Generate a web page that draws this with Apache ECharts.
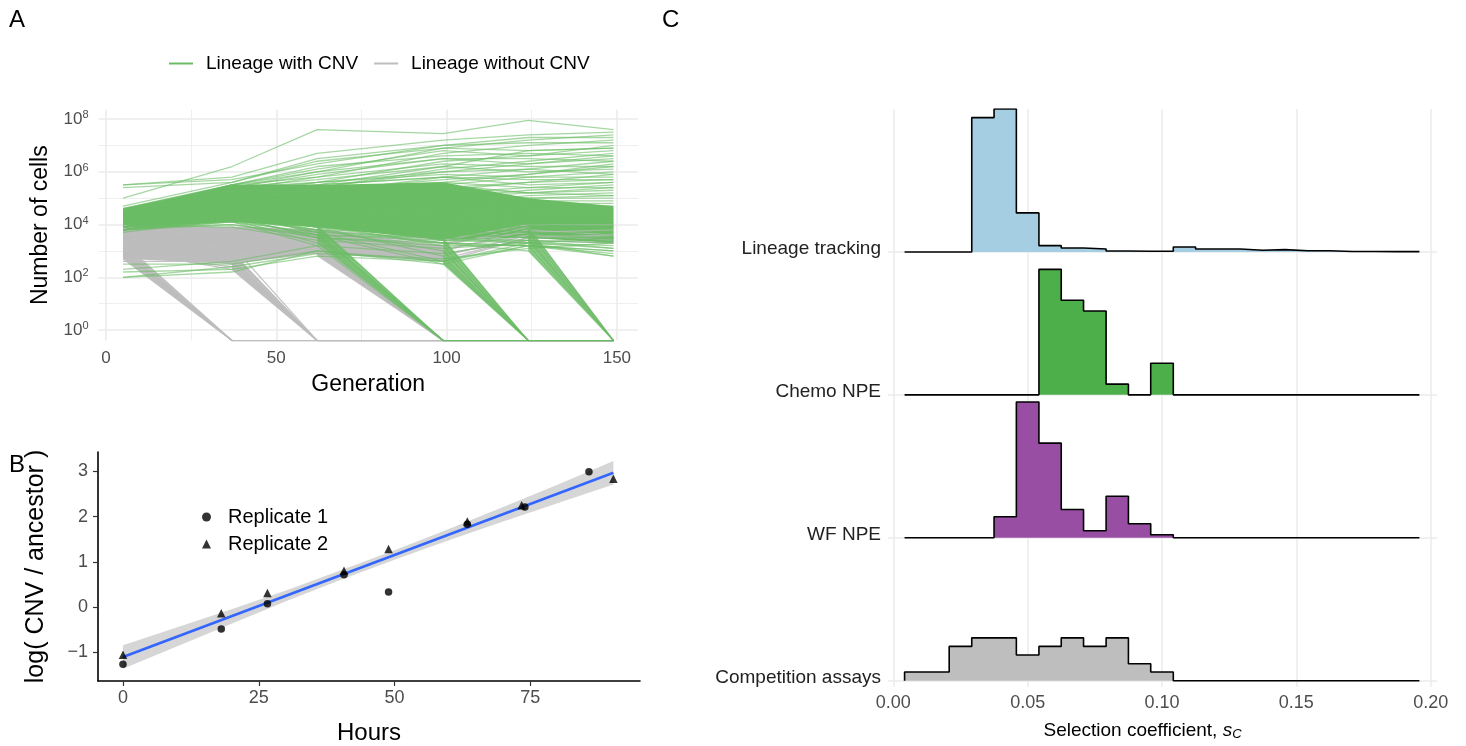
<!DOCTYPE html>
<html>
<head>
<meta charset="utf-8">
<script src="https://cdn.jsdelivr.net/npm/echarts@6/dist/echarts.min.js"></script>
<style>
  html, body { margin: 0; padding: 0; background: #fff; }
  #chart { width: 1466px; height: 746px; }
</style>
</head>
<body>
<div id="chart"></div>
<script>
// ---------- Panel A: lineage sizes, log10(number of cells) ----------
const generations = [5, 37, 62, 99, 124, 149];
const Z = -Infinity; // lineage lost (0 cells) -> drawn on the panel floor, like ggplot's -Inf

const cnvLineages = [
  [5.0, 6.2, 7.6, 7.45, 7.95, 7.6],
  [5.5, 5.8, 6.7, 7.2, 7.4, 7.5],
  [5.4, 5.6, 6.5, 7.0, 7.3, 7.3],
  [5.5, 5.7, 6.3, 7.0, 7.1, 7.1],
  [4.7, 5.6, 6.4, 6.9, 6.8, 6.9],
  [4.6, 5.5, 6.1, 6.8, 6.6, 6.8],
  [4.5, 5.5, 6.2, 6.6, 6.7, 6.6],
  [4.6, 5.5, 6.0, 6.5, 6.3, 6.5],
  [4.4, 5.4, 5.9, 6.5, 6.5, 6.4],
  [4.5, 5.5, 5.8, 6.3, 6.2, 6.2],
  [4.3, 5.4, 5.7, 6.2, 6.0, 6.1],
  [4.5, 5.4, 5.6, 6.0, 6.1, 5.9],
  [4.4, 5.3, 5.6, 5.9, 5.8, 5.8],
  [4.2, 5.3, 5.5, 5.8, 5.7, 5.7],
  [4.5, 5.5, 5.5, 5.8, 5.5, 5.6],
  [4.3, 5.2, 5.4, 5.6, 5.4, 5.4],
  [4.4, 5.0, 5.2, 5.5, 5.2, 5.3],
  [4.1, 5.1, 5.3, 5.4, 5.2, 5.1],
  [4.6, 5.4, 5.2, 5.3, 5.0, 5.0],
  [4.2, 5.0, 5.0, 5.2, 4.9, 4.9],
  [4.0, 4.9, 5.0, 5.1, 4.8, 4.8],
  [4.3, 5.2, 4.9, 5.0, 4.7, 4.7],
  [4.5, 5.0, 4.8, 4.9, 4.5, 4.6],
  [3.9, 4.8, 4.8, 4.8, 4.6, 4.5],
  [4.2, 4.9, 4.7, 4.7, 4.4, 4.4],
  [4.1, 4.7, 4.6, 4.6, 4.3, 4.3],
  [4.0, 4.8, 4.5, 4.6, 4.2, 4.2],
  [3.8, 4.6, 4.4, 4.5, 4.1, 4.1],
  [4.4, 4.7, 4.3, 4.4, 4.0, 4.0],
  [3.9, 4.5, 4.3, 4.3, 4.0, 3.9],
  [4.2, 4.6, 4.2, 4.2, 3.9, 3.9],
  [3.8, 4.4, 4.1, 4.1, 3.8, 3.8],
  [4.0, 4.5, 4.0, 4.0, 3.7, 3.7],
  [3.8, 4.3, 4.0, 3.9, 3.7, 3.6],
  [4.1, 4.4, 3.9, 3.8, 3.6, 3.5],
  [3.9, 4.2, 3.8, 3.7, 3.5, 3.5],
  [3.9, 4.3, 3.9, 3.6, 3.5, 3.4],
  [3.8, 4.1, 3.7, 3.5, 3.4, 3.3],
  [4.3, 4.2, 3.6, 3.5, 3.3, 3.2],
  [3.8, 4.0, 3.6, 3.4, 3.3, 3.1],
  [3.9, 4.0, 3.5, 3.3, 3.2, 3.0],
  [3.8, 4.1, 3.5, 3.2, 3.2, 2.9],
  [4.0, 3.9, 3.4, 3.1, 3.3, 2.8],
  [4.2, 5.1, 5.6, 6.4, 6.6, 7.0],
  [4.1, 5.0, 5.4, 6.1, 6.4, 6.7],
  [4.3, 5.2, 5.3, 5.7, 5.9, 6.3],
  [4.0, 4.9, 5.1, 5.5, 5.8, 6.0],
  [4.2, 4.8, 4.9, 5.3, 5.6, 5.7],
  [3.9, 4.7, 4.6, 5.0, 5.3, 5.5],
  [4.1, 4.6, 4.5, 4.8, 5.1, 5.2],
  [4.3, 5.3, 5.8, 6.7, 7.0, 7.2],
  [4.4, 5.4, 6.0, 6.9, 7.2, 7.4],
  [4.2, 5.2, 5.5, 6.2, 6.8, 6.9],
  [4.1, 5.1, 5.4, 6.0, 6.3, 6.6],
  [4.0, 5.0, 5.2, 5.8, 6.1, 6.4],
  [4.3, 5.1, 5.2, 5.6, 5.9, 6.2],
  [4.2, 5.0, 5.0, 5.4, 5.6, 5.9],
  [3.9, 4.9, 4.8, 5.2, 5.4, 5.6],
  [4.1, 4.8, 4.7, 5.0, 5.2, 5.4],
  [4.0, 4.7, 4.6, 4.9, 5.0, 5.1],
  [2.0, 2.4, 2.9, 2.7, 3.1, 3.3],
  [2.2, 2.3, 2.8, 2.6, 3.2, 3.0],
  [2.0, 2.2, 3.0, 2.5, 3.2, 2.8],
  [2.5, 2.5, 3.0, 2.6, 3.3, 3.5],
  [2.3, 2.6, 3.2, 2.9, 3.4, 3.1],
  // lost between generation 62 and 99
  [3.9, 4.4, 3.9, Z, Z, Z],
  [4.0, 4.5, 3.7, Z, Z, Z],
  [4.2, 4.6, 3.6, Z, Z, Z],
  [4.1, 4.3, 3.5, Z, Z, Z],
  [3.8, 4.2, 3.3, Z, Z, Z],
  [3.9, 4.1, 3.2, Z, Z, Z],
  // lost between 99 and 124
  [4.1, 4.6, 4.2, 3.4, Z, Z],
  [4.0, 4.5, 4.0, 3.2, Z, Z],
  [4.2, 4.4, 3.8, 3.0, Z, Z],
  [3.9, 4.3, 3.9, 2.8, Z, Z],
  [3.8, 4.4, 3.7, 2.6, Z, Z],
  [3.7, 4.2, 3.6, 2.5, Z, Z],
  // lost between 124 and 149
  [4.3, 4.8, 4.2, 3.9, 3.9, Z],
  [4.0, 4.6, 4.0, 3.6, 3.7, Z],
  [3.9, 4.5, 4.1, 3.4, 3.4, Z],
  [4.1, 4.4, 3.9, 3.3, 3.2, Z],
  [3.8, 4.2, 3.8, 3.3, 3.0, Z]
];

const noCnvLineages = [
  [3.9, 3.8, 3.7, 3.3, 3.7, 3.8],
  [3.6, 3.5, 3.4, 3.1, 3.6, 3.5],
  [3.2, 3.4, 3.3, 2.9, 3.4, 3.3],
  [2.6, 2.6, 3.0, 2.7, 3.5, 3.6],
  [3.5, 3.3, 3.5, 3.0, 3.8, 3.6],
  [3.0, 3.0, 3.2, 2.8, 3.6, 3.4],
  [3.8, 3.6, 3.6, 3.2, 3.9, Z],
  [2.8, 2.7, 3.1, 2.6, 3.5, Z],
  [3.7, 3.9, 3.8, 3.4, 4.0, 4.0],
  // lost before generation 37
  [3.3, Z, Z, Z, Z, Z],
  [3.1, Z, Z, Z, Z, Z],
  [2.9, Z, Z, Z, Z, Z],
  [2.7, Z, Z, Z, Z, Z],
  [3.0, Z, Z, Z, Z, Z],
  [2.8, Z, Z, Z, Z, Z],
  // lost before 62
  [3.5, 2.7, Z, Z, Z, Z],
  [3.2, 2.5, Z, Z, Z, Z],
  [3.0, 2.3, Z, Z, Z, Z],
  [3.6, 2.9, Z, Z, Z, Z],
  [3.3, 2.6, Z, Z, Z, Z],
  [2.9, 2.4, Z, Z, Z, Z],
  [3.8, 3.2, Z, Z, Z, Z],
  // lost before 99
  [3.4, 3.3, 3.0, Z, Z, Z],
  [3.2, 3.1, 2.9, Z, Z, Z],
  [3.0, 3.0, 3.1, Z, Z, Z],
  [3.6, 3.4, 3.4, Z, Z, Z],
  [3.5, 3.6, 3.7, Z, Z, Z],
  // lost before 124
  [3.2, 3.0, 3.1, 2.7, Z, Z],
  [3.4, 3.2, 3.3, 3.0, Z, Z]
];

// dense core of the overplotted bundles (log10 cells)
const cnvCoreLow  = [3.9, 4.1, 3.9, 3.4, 3.5, 3.3];
const cnvCoreHigh = [4.6, 5.5, 5.5, 5.6, 5.0, 4.7];
const noCnvCoreGens = [5, 37, 62, 99];
const noCnvCoreLow  = [2.7, 2.5, 2.9, 2.6];
const noCnvCoreHigh = [4.0, 3.9, 3.8, 3.2];
// dense fans of lineages lost between two samplings: [from, to] generation and size range at "from"
const noCnvLossGens = [[5, 37], [37, 62], [62, 99]];
const noCnvLossFrom = [[2.7, 3.3], [2.3, 3.0], [2.8, 3.4]];
const cnvLossGens = [[62, 99], [99, 124], [124, 149]];
const cnvLossFrom = [[3.3, 4.0], [2.5, 3.5], [3.0, 3.9]];

const genTicks = [0, 50, 100, 150];
const genMinorTicks = [25, 75, 125];
const cellTicks = [0, 2, 4, 6, 8];
const cellMinorTicks = [1, 3, 5, 7];

// ---------- Panel B: log(CNV / ancestor) over time ----------
const rep1Hours  = [0, 18.1, 26.6, 40.7, 48.9, 63.4, 74.0, 85.8];
const rep1Values = [-1.27, -0.49, 0.07, 0.71, 0.33, 1.83, 2.21, 2.99];
const rep2Hours  = [0, 18.1, 26.6, 40.7, 48.9, 63.4, 73.4, 90.3];
const rep2Values = [-1.06, -0.14, 0.31, 0.80, 1.28, 1.89, 2.25, 2.84];
const fitHours  = [0, 90.3];
const fitValues = [-1.11, 2.97];
const bandHours = [0, 10, 20, 30, 40, 50, 60, 70, 80, 90.3];
const bandLow   = [-1.37, -0.87, -0.37, 0.125, 0.595, 1.045, 1.475, 1.89, 2.295, 2.71];
const bandHigh  = [-0.85, -0.45, -0.05, 0.365, 0.805, 1.255, 1.725, 2.21, 2.705, 3.23];
const hourTicks = [0, 25, 50, 75];
const ratioTicks = [-1, 0, 1, 2, 3];

// ---------- Panel C: selection coefficient histograms ----------
const binEdges = [0.0042, 0.0125, 0.0208, 0.0292, 0.0375, 0.0458, 0.0542, 0.0625, 0.0708, 0.0792,
  0.0875, 0.0958, 0.1042, 0.1125, 0.1208, 0.1292, 0.1375, 0.1458, 0.1542, 0.1625, 0.1708,
  0.1792, 0.1875, 0.1958];
const ridgeNames = ['Competition assays', 'WF NPE', 'Chemo NPE', 'Lineage tracking'];
const ridgeColors = ['#BEBEBE', '#984EA3', '#4DAF4A', '#A6CEE3'];
const competitionHeights = [0.061, 0.061, 0.240, 0.300, 0.300, 0.180, 0.240, 0.300, 0.240, 0.300,
  0.119, 0.061, 0, 0, 0, 0, 0, 0, 0, 0, 0, 0, 0];
const wfHeights = [0, 0, 0, 0, 0.147, 0.950, 0.662, 0.198, 0.049, 0.291, 0.098, 0.021,
  0, 0, 0, 0, 0, 0, 0, 0, 0, 0, 0];
const chemoHeights = [0, 0, 0, 0, 0, 0, 0.878, 0.662, 0.587, 0.075, 0, 0.221,
  0, 0, 0, 0, 0, 0, 0, 0, 0, 0, 0];
const lineageHeights = [0, 0, 0, 0.94, 1.0, 0.273, 0.044, 0.028, 0.021, 0.006, 0.005, 0.005,
  0.035, 0.021, 0.021, 0.012, 0.016, 0.008, 0.008, 0.003, 0.003, 0.002, 0.002];
const ridgeHeights = [competitionHeights, wfHeights, chemoHeights, lineageHeights];
const sTicks = [0, 0.05, 0.10, 0.15, 0.20];

// ---------- chart ----------
const FONT = "'Liberation Sans', Arial, Helvetica, sans-serif";
const GREEN = '#6BBD65';
const GRAY = '#BDBDBD';
const GRID_COL = '#EBEBEB';
const TICK_COL = '#4D4D4D';
const A_FLOOR = -0.4;

const chart = echarts.init(document.getElementById('chart'));
const series = [];

// filled band between two curves, drawn through the axes of the given grid
function band(axisIdx, xs, lows, highs, color, z, opacity) {
  return {
    type: 'custom', coordinateSystem: 'cartesian2d',
    xAxisIndex: axisIdx, yAxisIndex: axisIdx, silent: true, z: z,
    data: [[xs[0], lows[0]]],
    renderItem: (params, api) => {
      const top = xs.map((x, i) => api.coord([x, highs[i]]));
      const bottom = xs.map((x, i) => api.coord([x, lows[i]])).reverse();
      return {type: 'polygon', shape: {points: top.concat(bottom)},
        style: {fill: color, opacity: opacity == null ? 1 : opacity}};
    }
  };
}

const onFloor = v => (v === Z ? A_FLOOR : v);

// panel A: dense cores and loss fans first, then individual lineages
series.push(band(0, generations, cnvCoreLow, cnvCoreHigh, GREEN, 2));
series.push(band(0, noCnvCoreGens, noCnvCoreLow, noCnvCoreHigh, GRAY, 3));
noCnvLossGens.forEach((g, i) => {
  series.push(band(0, g, [noCnvLossFrom[i][0], onFloor(Z)], [noCnvLossFrom[i][1], onFloor(Z)], GRAY, 3, 0.9));
});
cnvLossGens.forEach((g, i) => {
  series.push(band(0, g, [cnvLossFrom[i][0], onFloor(Z)], [cnvLossFrom[i][1], onFloor(Z)], GREEN, 5, 0.8));
});

noCnvLineages.forEach(l => {
  series.push({
    type: 'line', name: 'Lineage without CNV', xAxisIndex: 0, yAxisIndex: 0,
    data: generations.map((g, i) => [g, onFloor(l[i])]),
    symbol: 'none', lineStyle: {color: GRAY, width: 1.3, opacity: 0.9}, silent: true, z: 4
  });
});
cnvLineages.forEach(l => {
  series.push({
    type: 'line', name: 'Lineage with CNV', xAxisIndex: 0, yAxisIndex: 0,
    data: generations.map((g, i) => [g, onFloor(l[i])]),
    symbol: 'none', lineStyle: {color: GREEN, width: 1.3, opacity: 0.6}, silent: true, z: 5
  });
});

// panel B
series.push(band(2, bandHours, bandLow, bandHigh, '#D6D6D6', 2));
series.push({
  type: 'line', name: 'fit', xAxisIndex: 2, yAxisIndex: 2,
  data: fitHours.map((h, i) => [h, fitValues[i]]),
  symbol: 'none', lineStyle: {color: '#3366FF', width: 2.6}, silent: true, z: 3
});
series.push({
  type: 'scatter', name: 'Replicate 1', xAxisIndex: 2, yAxisIndex: 2,
  data: rep1Hours.map((h, i) => [h, rep1Values[i]]),
  symbol: 'circle', symbolSize: 7.5, itemStyle: {color: '#000'}, z: 5
});
series.push({
  type: 'scatter', name: 'Replicate 2', xAxisIndex: 2, yAxisIndex: 2,
  data: rep2Hours.map((h, i) => [h, rep2Values[i]]),
  symbol: 'triangle', symbolSize: 8.5, itemStyle: {color: '#000'}, z: 4
});

// panel C: step histograms stacked as ridges (ridge k sits on baseline k+1)
[3, 2, 1, 0].forEach(k => {
  const base = k + 1;
  const h = ridgeHeights[k];
  const pts = [[binEdges[0], base]];
  binEdges.forEach((e, i) => pts.push([e, base + h[Math.min(i, h.length - 1)]]));
  pts.push([binEdges[binEdges.length - 1], base]);
  series.push({
    type: 'line', name: ridgeNames[k], xAxisIndex: 3, yAxisIndex: 3,
    data: pts, step: 'end', symbol: 'none',
    lineStyle: {color: '#000', width: 1.6},
    areaStyle: {color: ridgeColors[k], opacity: 1, origin: base},
    silent: true, z: 2 + (3 - k)
  });
});

const option = {
  animation: false,
  backgroundColor: '#fff',
  textStyle: {fontFamily: FONT},
  graphic: [
    {type: 'text', left: 9, top: 8, style: {text: 'A', font: '24px ' + FONT, fill: '#000'}},
    {type: 'text', left: 9, top: 453, style: {text: 'B', font: '24px ' + FONT, fill: '#000'}},
    {type: 'text', left: 662, top: 8, style: {text: 'C', font: '24px ' + FONT, fill: '#000'}}
  ],
  legend: [
    {
      left: 164, top: 49, itemWidth: 24, itemHeight: 2, itemGap: 16, selectedMode: false,
      icon: 'rect',
      textStyle: {fontSize: 19, color: '#000', padding: [0, 0, 0, 8]},
      data: [
        {name: 'Lineage with CNV', itemStyle: {color: GREEN, opacity: 1}},
        {name: 'Lineage without CNV', itemStyle: {color: GRAY, opacity: 1}}
      ]
    },
    {
      left: 197, top: 502, orient: 'vertical', itemWidth: 9, itemHeight: 9, itemGap: 7,
      selectedMode: false,
      textStyle: {fontSize: 20, color: '#000', padding: [0, 0, 0, 12]},
      data: [
        {name: 'Replicate 1', icon: 'circle'},
        {name: 'Replicate 2', icon: 'triangle'}
      ]
    }
  ],
  grid: [
    {left: 98.5, top: 109.8, width: 539.5, height: 230.8},
    {left: 98, top: 452, width: 542, height: 230},
    {left: 888, top: 109, width: 549, height: 579}
  ],
  xAxis: [
    {
      gridIndex: 0, type: 'value', min: -2.2, max: 156.2,
      axisLine: {show: false},
      axisTick: {show: false, customValues: genTicks},
      axisLabel: {customValues: genTicks, fontSize: 17, color: TICK_COL, margin: 9},
      splitLine: {show: true, lineStyle: {color: GRID_COL, width: 1.6}},
      name: 'Generation', nameLocation: 'middle', nameGap: 33,
      nameTextStyle: {fontSize: 23, color: '#000'}
    },
    {
      gridIndex: 0, type: 'value', min: -2.2, max: 156.2,
      axisLine: {show: false}, axisLabel: {show: false},
      axisTick: {show: false, customValues: genMinorTicks},
      splitLine: {show: true, lineStyle: {color: GRID_COL, width: 0.8}}
    },
    {
      gridIndex: 1, type: 'value', min: -4.6, max: 95.2,
      axisLine: {onZero: false, lineStyle: {color: '#000', width: 1.6}},
      axisTick: {customValues: hourTicks, length: 5, lineStyle: {color: '#333', width: 1.2}},
      axisLabel: {customValues: hourTicks, fontSize: 18, color: TICK_COL, margin: 8},
      splitLine: {show: false},
      name: 'Hours', nameLocation: 'middle', nameGap: 40,
      nameTextStyle: {fontSize: 24, color: '#000'}
    },
    {
      gridIndex: 2, type: 'value', min: -0.00197, max: 0.20234,
      axisLine: {show: false},
      axisTick: {show: false, customValues: sTicks},
      axisLabel: {customValues: sTicks, fontSize: 18, color: TICK_COL, margin: 7,
        formatter: v => v.toFixed(2)},
      splitLine: {show: true, lineStyle: {color: GRID_COL, width: 1.5}},
      name: 'Selection coefficient, {it|s}{sub|C}', nameLocation: 'middle', nameGap: 33,
      nameTextStyle: {
        fontSize: 19, color: '#000', padding: [0, 40, 0, 0],
        rich: {
          it: {fontSize: 19, fontStyle: 'italic', color: '#000'},
          sub: {fontSize: 13, fontStyle: 'italic', color: '#000', verticalAlign: 'bottom', padding: [8, 0, 0, 0]}
        }
      }
    }
  ],
  yAxis: [
    {
      gridIndex: 0, type: 'value', min: A_FLOOR, max: 8.35,
      axisLine: {show: false},
      axisTick: {show: false, customValues: cellTicks},
      axisLabel: {
        customValues: cellTicks, fontSize: 17, color: TICK_COL, margin: 10,
        formatter: v => '10{s|' + v + '}',
        rich: {s: {fontSize: 11, color: TICK_COL, verticalAlign: 'top', padding: [0, 0, 8, 0]}}
      },
      splitLine: {show: true, lineStyle: {color: GRID_COL, width: 1.6}},
      name: 'Number of cells', nameLocation: 'middle', nameRotate: 90, nameGap: 46,
      nameTextStyle: {fontSize: 23, color: '#000'}
    },
    {
      gridIndex: 0, type: 'value', min: A_FLOOR, max: 8.35,
      axisLine: {show: false}, axisLabel: {show: false},
      axisTick: {show: false, customValues: cellMinorTicks},
      splitLine: {show: true, lineStyle: {color: GRID_COL, width: 0.8}}
    },
    {
      gridIndex: 1, type: 'value', min: -1.64, max: 3.43,
      axisLine: {onZero: false, lineStyle: {color: '#000', width: 1.6}},
      axisTick: {customValues: ratioTicks, length: 5, lineStyle: {color: '#333', width: 1.2}},
      axisLabel: {customValues: ratioTicks, fontSize: 18, color: TICK_COL, margin: 10,
        formatter: v => (v < 0 ? '\u2212' + Math.abs(v) : String(v))},
      splitLine: {show: false},
      name: 'log( CNV / ancestor )', nameLocation: 'middle', nameRotate: 90, nameGap: 49,
      nameTextStyle: {fontSize: 25, color: '#000'}
    },
    {
      gridIndex: 2, type: 'value', min: 0.956, max: 5,
      axisLine: {show: false},
      axisTick: {show: false, customValues: [1, 2, 3, 4]},
      axisLabel: {customValues: [1, 2, 3, 4], fontSize: 19, color: '#222', margin: 7,
        verticalAlign: 'bottom', lineHeight: 6,
        formatter: v => ridgeNames[Math.round(v) - 1]},
      splitLine: {show: true, lineStyle: {color: GRID_COL, width: 1.5}}
    }
  ],
  series: series
};

chart.setOption(option);
</script>
</body>
</html>
